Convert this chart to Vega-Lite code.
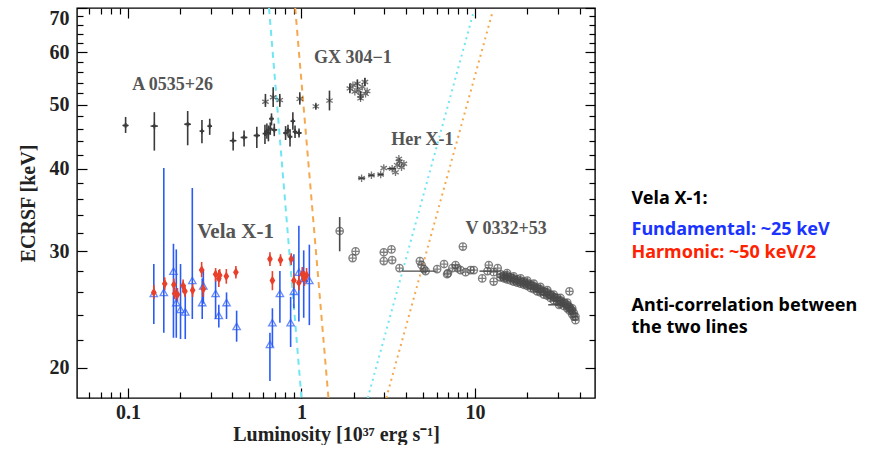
{
  "$schema": "https://vega.github.io/schema/vega-lite/v6.json",
  "padding": {"left": 17, "top": 6, "right": 0, "bottom": 0},
  "config": {
    "view": {"stroke": "#000", "strokeWidth": 1.4},
    "font": "Liberation Serif",
    "axis": {"domain": false, "grid": false, "tickColor": "#000", "tickWidth": 1.2, "labelFont": "Liberation Serif", "labelFontWeight": "bold", "labelFontSize": 20, "labelColor": "#222", "titleFont": "Liberation Serif", "titleFontWeight": "bold", "titleFontSize": 20, "titleColor": "#222", "labelOverlap": false, "zindex": 1}
  },
  "datasets": {
    "lines": [
      {"src": "cd", "L": 0.65, "E": 70}, {"src": "cd", "L": 1.0, "E": 18.0},
      {"src": "od", "L": 0.92, "E": 70}, {"src": "od", "L": 1.43, "E": 18.0},
      {"src": "cp", "L": 2.41, "E": 18.0}, {"src": "cp", "L": 9.8, "E": 69},
      {"src": "op", "L": 3.08, "E": 18.0}, {"src": "op", "L": 12.6, "E": 69}
    ],
    "labels": [
      {"label": "A 0535+26", "L": 0.181, "E": 53.6},
      {"label": "GX 304−1", "L": 1.98, "E": 58.8},
      {"label": "Her X-1", "L": 4.97, "E": 44.2},
      {"label": "Vela X-1", "L": 0.417, "E": 32.1},
      {"label": "V 0332+53", "L": 15.1, "E": 32.4}
    ],
    "notes": [
      {"text": "Vela X-1:", "kind": "head"},
      {"text": "Fundamental: ~25 keV", "kind": "fund"},
      {"text": "Harmonic: ~50 keV/2", "kind": "harm"},
      {"text": "Anti-correlation between\nthe two lines", "kind": "note"}
    ],
    "pts": [
      {"src": "A", "L": 0.097, "E": 46.5, "Elo": 45.3, "Ehi": 47.9, "Llo": 0.093, "Lhi": 0.101},
      {"src": "A", "L": 0.142, "E": 46.4, "Elo": 42.6, "Ehi": 48.7, "Llo": 0.135, "Lhi": 0.149},
      {"src": "A", "L": 0.221, "E": 46.7, "Elo": 43.4, "Ehi": 48.9, "Llo": 0.211, "Lhi": 0.231},
      {"src": "A", "L": 0.267, "E": 45.6, "Elo": 43.7, "Ehi": 47.4},
      {"src": "A", "L": 0.296, "E": 46.4, "Elo": 45.0, "Ehi": 47.6},
      {"src": "A", "L": 0.404, "E": 44.1, "Elo": 42.6, "Ehi": 45.5, "Llo": 0.386, "Lhi": 0.422},
      {"src": "A", "L": 0.467, "E": 44.6, "Elo": 43.2, "Ehi": 45.7, "Llo": 0.446, "Lhi": 0.488},
      {"src": "A", "L": 0.553, "E": 44.9, "Elo": 43.0, "Ehi": 46.3, "Llo": 0.53, "Lhi": 0.577},
      {"src": "A", "L": 0.616, "E": 45.2, "Elo": 43.6, "Ehi": 46.6},
      {"src": "A", "L": 0.632, "E": 45.6, "Elo": 44.4, "Ehi": 46.8},
      {"src": "A", "L": 0.645, "E": 45.3, "Elo": 44.0, "Ehi": 46.5},
      {"src": "A", "L": 0.661, "E": 46.0, "Elo": 45.0, "Ehi": 47.0},
      {"src": "A", "L": 0.672, "E": 47.6, "Elo": 46.5, "Ehi": 48.5},
      {"src": "A", "L": 0.697, "E": 45.8, "Elo": 44.8, "Ehi": 46.8, "Llo": 0.67, "Lhi": 0.725},
      {"src": "A", "L": 0.81, "E": 45.3, "Elo": 44.2, "Ehi": 46.4},
      {"src": "A", "L": 0.836, "E": 45.7, "Elo": 44.8, "Ehi": 46.6},
      {"src": "A", "L": 0.859, "E": 44.7, "Elo": 43.2, "Ehi": 45.9},
      {"src": "A", "L": 0.892, "E": 47.2, "Elo": 45.8, "Ehi": 48.7},
      {"src": "A", "L": 0.918, "E": 45.5, "Elo": 44.5, "Ehi": 46.5},
      {"src": "A", "L": 0.968, "E": 45.3, "Elo": 44.6, "Ehi": 46.0, "Llo": 0.93, "Lhi": 1.0},
      {"src": "GX", "L": 0.62, "E": 50.5, "Elo": 49.6, "Ehi": 51.9},
      {"src": "GX", "L": 0.687, "E": 51.3, "Elo": 49.6, "Ehi": 53.1},
      {"src": "GX", "L": 0.75, "E": 50.8, "Elo": 49.6, "Ehi": 51.9},
      {"src": "GX", "L": 0.978, "E": 51.0, "Elo": 50.0, "Ehi": 52.2},
      {"src": "GX", "L": 1.21, "E": 49.7, "Elo": 49.2, "Ehi": 50.2},
      {"src": "GX", "L": 1.45, "E": 50.7, "Elo": 49.0, "Ehi": 52.5},
      {"src": "GX", "L": 1.9, "E": 52.9, "Elo": 52.0, "Ehi": 53.8},
      {"src": "GX", "L": 1.98, "E": 53.5},
      {"src": "GX", "L": 2.03, "E": 52.3},
      {"src": "GX", "L": 2.1, "E": 53.8, "Elo": 52.8, "Ehi": 54.6},
      {"src": "GX", "L": 2.14, "E": 52.5},
      {"src": "GX", "L": 2.19, "E": 51.6, "Elo": 50.8, "Ehi": 52.4},
      {"src": "GX", "L": 2.24, "E": 53.2},
      {"src": "GX", "L": 2.32, "E": 54.1, "Elo": 53.3, "Ehi": 54.9},
      {"src": "GX", "L": 2.34, "E": 51.9},
      {"src": "GX", "L": 2.39, "E": 52.4},
      {"src": "GX", "L": 2.19, "E": 51.1},
      {"src": "Her", "L": 2.22, "E": 38.7, "Llo": 2.12, "Lhi": 2.33},
      {"src": "Her", "L": 2.53, "E": 39.1, "Llo": 2.42, "Lhi": 2.64},
      {"src": "Her", "L": 2.86, "E": 39.2, "Llo": 2.74, "Lhi": 2.98},
      {"src": "Her", "L": 2.98, "E": 40.1},
      {"src": "Her", "L": 3.33, "E": 40.0, "Llo": 3.12, "Lhi": 3.5},
      {"src": "Her", "L": 3.48, "E": 39.5},
      {"src": "Her", "L": 3.56, "E": 40.5},
      {"src": "Her", "L": 3.67, "E": 41.0},
      {"src": "Her", "L": 3.77, "E": 40.2},
      {"src": "Her", "L": 3.64, "E": 41.4},
      {"src": "Her", "L": 3.89, "E": 40.7},
      {"src": "V", "L": 1.66, "E": 32.2, "Elo": 30.0, "Ehi": 33.8},
      {"src": "V", "L": 2.05, "E": 30.0},
      {"src": "V", "L": 1.97, "E": 29.3},
      {"src": "V", "L": 2.98, "E": 29.9},
      {"src": "V", "L": 3.3, "E": 30.2},
      {"src": "V", "L": 2.98, "E": 29.0},
      {"src": "V", "L": 3.33, "E": 29.1},
      {"src": "V", "L": 3.67, "E": 28.3},
      {"src": "V", "L": 5.19, "E": 28.0, "Llo": 3.8, "Lhi": 6.0},
      {"src": "V", "L": 4.81, "E": 29.0},
      {"src": "V", "L": 4.92, "E": 28.6},
      {"src": "V", "L": 5.07, "E": 28.2},
      {"src": "V", "L": 6.05, "E": 28.2},
      {"src": "V", "L": 6.63, "E": 28.7},
      {"src": "V", "L": 6.98, "E": 27.8},
      {"src": "V", "L": 7.4, "E": 28.3},
      {"src": "V", "L": 7.92, "E": 28.3},
      {"src": "V", "L": 8.51, "E": 30.5},
      {"src": "V", "L": 6.9, "E": 27.7},
      {"src": "V", "L": 7.72, "E": 28.6},
      {"src": "V", "L": 8.25, "E": 28.1},
      {"src": "V", "L": 8.82, "E": 27.9},
      {"src": "V", "L": 9.42, "E": 28.1},
      {"src": "V", "L": 9.84, "E": 28.1},
      {"src": "V", "L": 11.0, "E": 27.3},
      {"src": "V", "L": 12.0, "E": 28.6},
      {"src": "V", "L": 12.8, "E": 27.9},
      {"src": "V", "L": 13.5, "E": 28.3},
      {"src": "V", "L": 12.8, "E": 27.0},
      {"src": "V", "L": 11.8, "E": 28.0, "Llo": 10.6, "Lhi": 13.4},
      {"src": "V", "L": 14.0, "E": 27.7}, {"src": "V", "L": 14.0, "E": 27.4},
      {"src": "V", "L": 14.4, "E": 27.5},
      {"src": "V", "L": 14.7, "E": 27.6}, {"src": "V", "L": 14.7, "E": 27.3},
      {"src": "V", "L": 15.0, "E": 27.4},
      {"src": "V", "L": 15.3, "E": 27.6}, {"src": "V", "L": 15.3, "E": 27.2}, {"src": "V", "L": 15.3, "E": 27.8},
      {"src": "V", "L": 15.6, "E": 27.4},
      {"src": "V", "L": 16.0, "E": 27.4}, {"src": "V", "L": 16.0, "E": 27.1},
      {"src": "V", "L": 16.3, "E": 27.3},
      {"src": "V", "L": 16.7, "E": 27.3}, {"src": "V", "L": 16.7, "E": 27.0}, {"src": "V", "L": 16.7, "E": 27.5},
      {"src": "V", "L": 17.1, "E": 27.1},
      {"src": "V", "L": 17.5, "E": 27.2}, {"src": "V", "L": 17.5, "E": 26.9},
      {"src": "V", "L": 17.9, "E": 27.0},
      {"src": "V", "L": 18.3, "E": 27.1}, {"src": "V", "L": 18.3, "E": 26.8}, {"src": "V", "L": 18.3, "E": 27.3},
      {"src": "V", "L": 18.7, "E": 26.9},
      {"src": "V", "L": 19.1, "E": 27.0}, {"src": "V", "L": 19.1, "E": 26.7},
      {"src": "V", "L": 19.5, "E": 26.8},
      {"src": "V", "L": 20.0, "E": 26.9}, {"src": "V", "L": 20.0, "E": 26.6}, {"src": "V", "L": 20.0, "E": 27.1},
      {"src": "V", "L": 20.4, "E": 26.7},
      {"src": "V", "L": 20.9, "E": 26.7}, {"src": "V", "L": 20.9, "E": 26.4},
      {"src": "V", "L": 21.3, "E": 26.6},
      {"src": "V", "L": 21.8, "E": 26.6}, {"src": "V", "L": 21.8, "E": 26.3}, {"src": "V", "L": 21.8, "E": 26.8},
      {"src": "V", "L": 22.3, "E": 26.4},
      {"src": "V", "L": 22.8, "E": 26.4}, {"src": "V", "L": 22.8, "E": 26.1},
      {"src": "V", "L": 23.3, "E": 26.3},
      {"src": "V", "L": 23.8, "E": 26.3}, {"src": "V", "L": 23.8, "E": 26.0}, {"src": "V", "L": 23.8, "E": 26.5},
      {"src": "V", "L": 24.3, "E": 26.1},
      {"src": "V", "L": 24.9, "E": 26.1}, {"src": "V", "L": 24.9, "E": 25.8},
      {"src": "V", "L": 25.5, "E": 26.0},
      {"src": "V", "L": 26.1, "E": 26.0}, {"src": "V", "L": 26.1, "E": 25.7}, {"src": "V", "L": 26.1, "E": 26.2},
      {"src": "V", "L": 26.6, "E": 25.8},
      {"src": "V", "L": 27.2, "E": 25.8}, {"src": "V", "L": 27.2, "E": 25.5},
      {"src": "V", "L": 27.8, "E": 25.7},
      {"src": "V", "L": 28.4, "E": 25.6}, {"src": "V", "L": 28.4, "E": 25.3}, {"src": "V", "L": 28.4, "E": 25.8},
      {"src": "V", "L": 29.0, "E": 25.5},
      {"src": "V", "L": 29.7, "E": 25.5}, {"src": "V", "L": 29.7, "E": 25.2},
      {"src": "V", "L": 30.4, "E": 25.3},
      {"src": "V", "L": 31.1, "E": 25.3}, {"src": "V", "L": 31.1, "E": 25.0}, {"src": "V", "L": 31.1, "E": 25.5},
      {"src": "V", "L": 31.8, "E": 25.1},
      {"src": "V", "L": 32.5, "E": 25.1}, {"src": "V", "L": 32.5, "E": 24.8},
      {"src": "V", "L": 33.2, "E": 25.0},
      {"src": "V", "L": 34.0, "E": 24.9}, {"src": "V", "L": 34.0, "E": 24.6}, {"src": "V", "L": 34.0, "E": 25.1},
      {"src": "V", "L": 34.6, "E": 24.7},
      {"src": "V", "L": 35.1, "E": 24.7}, {"src": "V", "L": 35.1, "E": 24.4},
      {"src": "V", "L": 35.7, "E": 24.5},
      {"src": "V", "L": 36.3, "E": 24.4}, {"src": "V", "L": 36.3, "E": 24.1}, {"src": "V", "L": 36.3, "E": 24.6},
      {"src": "V", "L": 37.1, "E": 24.2}, {"src": "V", "L": 37.1, "E": 23.9},
      {"src": "V", "L": 37.9, "E": 23.9}, {"src": "V", "L": 37.9, "E": 23.6},
      {"src": "V", "L": 35.0, "E": 26.1},
      {"src": "V", "L": 30.5, "E": 24.9, "Llo": 26.4, "Lhi": 33.0},
      {"src": "VF", "L": 0.141, "E": 25.9, "Elo": 23.3, "Ehi": 28.7},
      {"src": "VF", "L": 0.161, "E": 26.0, "Elo": 22.6, "Ehi": 40.1},
      {"src": "VF", "L": 0.183, "E": 28.0, "Elo": 22.2, "Ehi": 30.8},
      {"src": "VF", "L": 0.19, "E": 25.1, "Elo": 22.2, "Ehi": 30.2},
      {"src": "VF", "L": 0.201, "E": 24.5, "Elo": 22.1, "Ehi": 28.7},
      {"src": "VF", "L": 0.214, "E": 24.3, "Elo": 22.1, "Ehi": 26.0},
      {"src": "VF", "L": 0.235, "E": 27.1, "Elo": 23.7, "Ehi": 37.4},
      {"src": "VF", "L": 0.268, "E": 25.1, "Elo": 23.7, "Ehi": 27.3},
      {"src": "VF", "L": 0.272, "E": 26.6, "Elo": 25.0, "Ehi": 28.2},
      {"src": "VF", "L": 0.32, "E": 25.9, "Elo": 23.7, "Ehi": 27.3},
      {"src": "VF", "L": 0.334, "E": 24.0, "Elo": 23.0, "Ehi": 24.9},
      {"src": "VF", "L": 0.37, "E": 25.1, "Elo": 23.7, "Ehi": 26.0},
      {"src": "VF", "L": 0.423, "E": 23.1, "Elo": 21.9, "Ehi": 24.4},
      {"src": "VF", "L": 0.658, "E": 21.7, "Elo": 19.1, "Ehi": 22.6},
      {"src": "VF", "L": 0.68, "E": 23.4, "Elo": 21.5, "Ehi": 24.6},
      {"src": "VF", "L": 0.751, "E": 25.9, "Elo": 23.4, "Ehi": 28.0},
      {"src": "VF", "L": 0.866, "E": 23.4, "Elo": 21.5, "Ehi": 25.6},
      {"src": "VF", "L": 0.904, "E": 26.1, "Elo": 24.6, "Ehi": 29.7},
      {"src": "VF", "L": 0.966, "E": 27.9, "Elo": 23.5, "Ehi": 32.8},
      {"src": "VF", "L": 1.03, "E": 27.3, "Elo": 23.8, "Ehi": 30.1},
      {"src": "VF", "L": 1.11, "E": 27.1, "Elo": 23.2, "Ehi": 30.7},
      {"src": "VH", "L": 0.141, "E": 26.0, "Elo": 25.4, "Ehi": 26.7},
      {"src": "VH", "L": 0.163, "E": 26.8, "Elo": 26.2, "Ehi": 27.4},
      {"src": "VH", "L": 0.184, "E": 26.7, "Elo": 26.1, "Ehi": 27.3},
      {"src": "VH", "L": 0.186, "E": 25.9, "Elo": 25.4, "Ehi": 26.4},
      {"src": "VH", "L": 0.193, "E": 25.8, "Elo": 25.2, "Ehi": 26.4},
      {"src": "VH", "L": 0.208, "E": 26.6, "Elo": 26.0, "Ehi": 27.2},
      {"src": "VH", "L": 0.213, "E": 26.1, "Elo": 25.6, "Ehi": 26.7},
      {"src": "VH", "L": 0.236, "E": 26.2, "Elo": 25.6, "Ehi": 26.8},
      {"src": "VH", "L": 0.266, "E": 28.1, "Elo": 27.4, "Ehi": 28.9},
      {"src": "VH", "L": 0.272, "E": 26.3, "Elo": 25.6, "Ehi": 27.0},
      {"src": "VH", "L": 0.32, "E": 27.7, "Elo": 27.0, "Ehi": 28.3},
      {"src": "VH", "L": 0.334, "E": 27.3, "Elo": 26.5, "Ehi": 28.1},
      {"src": "VH", "L": 0.338, "E": 27.6, "Elo": 27.0, "Ehi": 28.2},
      {"src": "VH", "L": 0.369, "E": 27.5, "Elo": 26.8, "Ehi": 28.2},
      {"src": "VH", "L": 0.419, "E": 27.9, "Elo": 27.3, "Ehi": 28.5},
      {"src": "VH", "L": 0.658, "E": 29.2, "Elo": 28.5, "Ehi": 29.9},
      {"src": "VH", "L": 0.68, "E": 27.1, "Elo": 26.2, "Ehi": 28.0},
      {"src": "VH", "L": 0.757, "E": 29.1, "Elo": 28.5, "Ehi": 29.7},
      {"src": "VH", "L": 0.873, "E": 29.2, "Elo": 28.6, "Ehi": 29.8},
      {"src": "VH", "L": 0.904, "E": 27.1, "Elo": 26.4, "Ehi": 27.8},
      {"src": "VH", "L": 0.966, "E": 26.9, "Elo": 26.2, "Ehi": 27.6},
      {"src": "VH", "L": 1.01, "E": 27.7, "Elo": 27.0, "Ehi": 28.4},
      {"src": "VH", "L": 1.04, "E": 27.3, "Elo": 26.6, "Ehi": 28.0},
      {"src": "VH", "L": 1.07, "E": 27.6, "Elo": 26.9, "Ehi": 28.3}
    ]
  },
  "spacing": 34,
  "hconcat": [
    {
      "width": 518,
      "height": 390,
      "layer": [
        {
          "data": {"name": "lines"},
          "mark": {"type": "line", "strokeWidth": 2, "clip": true},
          "encoding": {
            "x": {"field": "L", "type": "quantitative", "scale": {"type": "log", "domain": [0.0509, 49.1], "nice": false}, "axis": null},
            "y": {"field": "E", "type": "quantitative", "scale": {"type": "log", "domain": [18, 70], "nice": false}, "axis": null},
            "color": {"field": "src", "type": "nominal", "legend": null, "scale": {"domain": ["A", "GX", "Her", "V", "VF", "VH", "cd", "od", "cp", "op"], "range": ["#3a3a3a", "#3a3a3a", "#3a3a3a", "#4a4a4a", "#2a5cf5", "#e8402a", "#6fe6f2", "#f5a84e", "#6fe6f2", "#f5a84e"]}},
            "strokeDash": {"field": "src", "type": "nominal", "legend": null, "scale": {"domain": ["cd", "od", "cp", "op"], "range": [[6, 5], [6, 5], [2, 4], [2, 4]]}}
          }
        },
        {
          "data": {"name": "pts"},
          "transform": [{"filter": "isValid(datum.Elo)"}],
          "mark": {"type": "rule", "strokeWidth": 1.6},
          "encoding": {
            "x": {"field": "L", "type": "quantitative", "axis": null},
            "y": {"field": "Elo", "type": "quantitative", "axis": null},
            "y2": {"field": "Ehi"},
            "color": {"field": "src", "type": "nominal", "legend": null}
          }
        },
        {
          "data": {"name": "pts"},
          "transform": [{"filter": "isValid(datum.Llo)"}],
          "mark": {"type": "rule", "strokeWidth": 1.4},
          "encoding": {
            "x": {"field": "Llo", "type": "quantitative", "axis": {"orient": "top", "values": [0.06, 0.07, 0.08, 0.09, 0.2, 0.3, 0.4, 0.5, 0.6, 0.7, 0.8, 0.9, 2, 3, 4, 5, 6, 7, 8, 9, 20, 30, 40], "labels": false, "title": null, "minExtent": 0, "offset": -6, "tickSize": 6}},
            "x2": {"field": "Lhi"},
            "y": {"field": "E", "type": "quantitative", "axis": {"orient": "right", "values": [22, 24, 26, 28, 32, 34, 36, 38, 42, 44, 46, 48, 52, 54, 56, 58, 62, 64, 66, 68], "labels": false, "title": null, "minExtent": 0, "offset": -6, "tickSize": 6}},
            "color": {"field": "src", "type": "nominal", "legend": null}
          }
        },
        {
          "data": {"name": "pts"},
          "transform": [{"filter": "indexof(['GX','Her','V','VF'], datum.src) >= 0"}],
          "mark": {"type": "point", "filled": false, "strokeWidth": 1.3, "size": 55},
          "encoding": {
            "x": {"field": "L", "type": "quantitative", "axis": {"orient": "bottom", "values": [0.1, 1, 10], "labelExpr": "datum.value == 0.1 ? '0.1' : datum.value == 1 ? '1' : '10'", "offset": -10, "tickSize": 10, "labelPadding": 4, "title": "Luminosity [10³⁷ erg s⁻¹]", "titlePadding": 2}},
            "y": {"field": "E", "type": "quantitative", "axis": {"orient": "left", "values": [20, 30, 40, 50, 60, 70], "labelExpr": "'' + datum.value", "offset": -10, "tickSize": 10, "labelPadding": 8, "labelFlush": true, "title": "ECRSF [keV]", "titlePadding": 11}},
            "color": {"field": "src", "type": "nominal", "legend": null},
            "shape": {"field": "src", "type": "nominal", "legend": null, "scale": {"domain": ["GX", "Her", "V", "VF"], "range": ["M0,-1L0,1M-0.87,-0.5L0.87,0.5M-0.87,0.5L0.87,-0.5", "M0,-1L0,1M-0.87,-0.5L0.87,0.5M-0.87,0.5L0.87,-0.5", "M-1,0A1,1,0,1,1,1,0A1,1,0,1,1,-1,0ZM-1,0L1,0M0,-1L0,1", "triangle-up"]}}
          }
        },
        {
          "data": {"name": "pts"},
          "transform": [{"filter": "datum.src == 'VH'"}],
          "mark": {"type": "point", "filled": true, "opacity": 1, "size": 90, "shape": "M0,-1L0.6,0L0,1L-0.6,0Z"},
          "encoding": {
            "x": {"field": "L", "type": "quantitative", "axis": {"orient": "bottom", "values": [0.06, 0.07, 0.08, 0.09, 0.2, 0.3, 0.4, 0.5, 0.6, 0.7, 0.8, 0.9, 2, 3, 4, 5, 6, 7, 8, 9, 20, 30, 40], "labels": false, "title": null, "minExtent": 0, "offset": -6, "tickSize": 6}},
            "y": {"field": "E", "type": "quantitative", "axis": {"orient": "left", "values": [22, 24, 26, 28, 32, 34, 36, 38, 42, 44, 46, 48, 52, 54, 56, 58, 62, 64, 66, 68], "labels": false, "title": null, "minExtent": 0, "offset": -6, "tickSize": 6}},
            "color": {"field": "src", "type": "nominal", "legend": null}
          }
        },
        {
          "data": {"name": "pts"},
          "transform": [{"filter": "datum.src == 'A'"}],
          "mark": {"type": "point", "filled": true, "opacity": 1, "size": 22, "shape": "cross"},
          "encoding": {
            "x": {"field": "L", "type": "quantitative", "axis": null},
            "y": {"field": "E", "type": "quantitative", "axis": null},
            "color": {"field": "src", "type": "nominal", "legend": null}
          }
        },
        {
          "data": {"name": "labels"},
          "mark": {"type": "text", "font": "Liberation Serif", "fontWeight": "bold", "color": "#555555", "align": "center", "baseline": "middle"},
          "encoding": {
            "x": {"field": "L", "type": "quantitative", "axis": {"orient": "top", "values": [0.1, 1, 10], "labels": false, "title": null, "minExtent": 0, "offset": -10, "tickSize": 10}},
            "y": {"field": "E", "type": "quantitative", "axis": {"orient": "right", "values": [20, 30, 40, 50, 60, 70], "labels": false, "title": null, "minExtent": 0, "offset": -10, "tickSize": 10}},
            "text": {"field": "label"},
            "size": {"condition": {"test": "datum.label == 'Vela X-1'", "value": 21}, "value": 18}
          }
        }
      ],
      "resolve": {"axis": {"x": "independent", "y": "independent"}}
    },
    {
      "width": 1,
      "height": 390,
      "view": {"stroke": null},
      "data": {"name": "notes"},
      "encoding": {
        "y": {"field": "text", "type": "ordinal", "sort": null, "axis": null, "scale": {"type": "point", "padding": 0, "range": [198.7, 267.7]}},
        "text": {"field": "text"},
        "fill": {"field": "kind", "type": "nominal", "legend": null, "scale": {"domain": ["head", "fund", "harm", "note"], "range": ["#000000", "#1a33ff", "#ff2200", "#000000"]}}
      },
      "layer": [
        {
          "transform": [{"filter": "datum.kind == 'head'"}],
          "mark": {"type": "text", "align": "left", "baseline": "middle", "font": "Noto Sans", "fontWeight": "bold", "fontSize": 18, "dy": -8}
        },
        {
          "transform": [{"filter": "datum.kind == 'fund' || datum.kind == 'harm'"}],
          "mark": {"type": "text", "align": "left", "baseline": "middle", "font": "Noto Sans", "fontWeight": "bold", "fontSize": 18}
        },
        {
          "transform": [{"filter": "datum.kind == 'note'"}],
          "mark": {"type": "text", "align": "left", "baseline": "middle", "font": "Noto Sans", "fontWeight": "bold", "fontSize": 18, "lineBreak": "\n", "lineHeight": 22, "dy": 30.5}
        }
      ]
    }
  ]
}
